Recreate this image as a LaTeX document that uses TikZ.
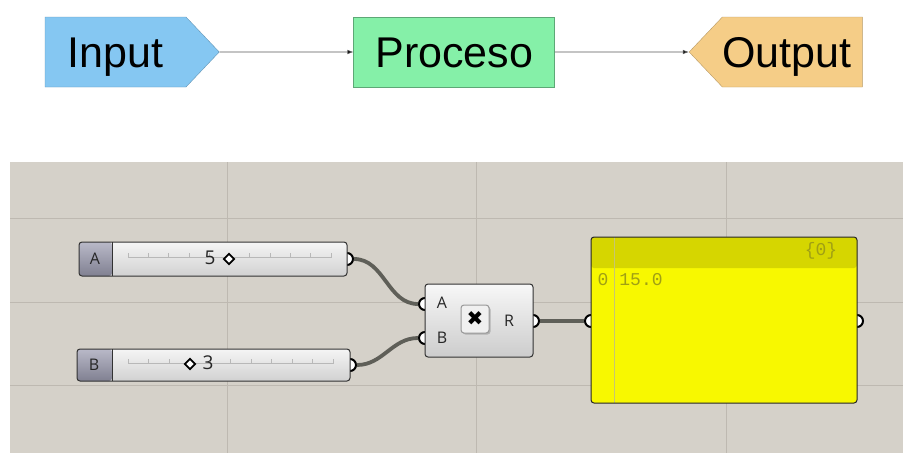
\documentclass[tikz,border=0pt]{standalone}
\usepackage{fontspec}
\setmainfont{Liberation Sans}
\newfontfamily\ghfont{Open Sans}
\newfontfamily\panelfont{Liberation Mono}
\newfontfamily\symfont{DejaVu Sans}
\usepackage{tikz}
\usetikzlibrary{arrows.meta,positioning,shapes.symbols,shapes.geometric}
\definecolor{inblue}{RGB}{133,199,242}
\definecolor{procgreen}{RGB}{133,240,168}
\definecolor{outorange}{RGB}{245,205,135}
\definecolor{canvasbg}{RGB}{213,209,201}
\definecolor{gridgray}{RGB}{190,185,177}
\definecolor{wiregray}{RGB}{95,95,88}
\definecolor{ghborder}{RGB}{50,50,50}
\definecolor{lbltop}{RGB}{185,185,200}
\definecolor{lblbot}{RGB}{128,128,145}
\definecolor{paneltop}{RGB}{214,214,0}
\definecolor{panelbody}{RGB}{248,248,0}
\definecolor{panelink}{RGB}{160,160,20}
\tikzset{
    %Define standard arrow tip
    >={Latex[length=6pt,width=4.5pt]},
    %Define style for the top boxes
    inbox/.style={
           signal, signal to=east, signal pointer angle=93,
           draw=inblue!75!black, thin,
           fill=inblue,
           text width=141pt, inner xsep=0pt, inner ysep=19.5pt,
           text height=31pt, text depth=0pt,
           font=\fontsize{43}{43}\selectfont,
           align=center},
    procbox/.style={
           rectangle,
           draw=procgreen!70!black, thin,
           fill=procgreen,
           minimum width=201pt,
           text height=31pt, text depth=0pt, inner ysep=19.5pt,
           font=\fontsize{43}{43}\selectfont,
           text centered},
    outbox/.style={
           signal, signal to=west, signal pointer angle=93,
           draw=outorange!75!black, thin,
           fill=outorange,
           text width=140pt, inner xsep=0pt, inner ysep=19.5pt,
           text height=31pt, text depth=0pt,
           font=\fontsize{43}{43}\selectfont,
           align=left},
    % Define arrow style
    flow/.style={
           ->,
           draw=black!65, line width=0.7pt},
    %Define style for the canvas
    canvas/.style={fill=canvasbg},
    gridline/.style={draw=gridgray, line width=1pt},
    grip/.style={
           circle,
           draw=black, fill=white,
           line width=2pt,
           minimum size=12pt,
           inner sep=0pt},
    wire/.style={
           draw=wiregray,
           line width=3.8pt},
    slider/.style={
           rectangle,
           rounded corners=3pt,
           draw=ghborder, line width=1pt,
           top color=white!96!black,
           bottom color=black!18,
           path picture={
              \shade[top color=lbltop, bottom color=lblbot]
                 (path picture bounding box.south west) rectangle
                 ([xshift=#1]path picture bounding box.north west);
              \draw[ghborder, line width=1pt]
                 ([xshift=#1]path picture bounding box.south west) --
                 ([xshift=#1]path picture bounding box.north west);
           }},
    tick/.style={draw=black!28, line width=0.7pt},
    knob/.style={
           diamond,
           draw=black, fill=white,
           line width=1.8pt,
           minimum size=11pt,
           inner sep=0pt},
    ghlabel/.style={
           inner sep=0pt,
           font=\ghfont\fontsize{16}{16}\selectfont,
           text=black!85},
    ghvalue/.style={
           inner sep=0pt,
           font=\ghfont\fontsize{19}{19}\selectfont,
           text=black!85},
    comp/.style={
           rectangle,
           rounded corners=3pt,
           draw=ghborder, line width=1pt,
           top color=white!97!black,
           bottom color=black!20},
    iconbox/.style={
           rectangle,
           rounded corners=3pt,
           draw=black!40, line width=1pt,
           fill=black!6,
           minimum width=28pt,
           minimum height=28pt,
           font=\symfont\fontsize{20}{20}\selectfont},
    iconshadow/.style={
           rectangle,
           rounded corners=3pt,
           fill=black!30,
           minimum width=28pt,
           minimum height=28pt},
    panel/.style={
           rectangle,
           rounded corners=3pt,
           draw=black!85, line width=1pt,
           fill=panelbody,
           path picture={
              \fill[paneltop]
                 (path picture bounding box.north west) rectangle
                 ([yshift=-31pt]path picture bounding box.north east);
              \draw[panelink!60, line width=0.8pt]
                 ([xshift=23pt]path picture bounding box.north west) --
                 ([xshift=23pt]path picture bounding box.south west);
           }},
    paneltext/.style={
           inner sep=0pt,
           font=\panelfont\fontsize{18}{18}\selectfont,
           text=panelink}
}
\begin{document}
\begin{tikzpicture}[x=1pt,y=-1pt,node distance=134pt]
\useasboundingbox (0,0) rectangle (903,453);
% top row
\node[inbox](input) at (115.5,52){Input};
\node[procbox, right=of input](proc){Proceso};
\node[outbox, right=of proc](output){Output};
\path[flow]
	(input) edge (proc)
	(proc) edge (output);
% canvas and grid
\fill[canvas] (10,162) rectangle (903,453);
\foreach \x in {227,476,726}
	\draw[gridline] (\x,162) -- (\x,453);
\foreach \y in {218,302,385}
	\draw[gridline] (10,\y) -- (903,\y);
% grips
\node[grip](gA) at (347,259){};
\node[grip](gB) at (350,365){};
\node[grip](gMA) at (425,304){};
\node[grip](gMB) at (425,338){};
\node[grip](gR) at (533,321){};
\node[grip](gPin) at (591,321){};
\node[grip](gPout) at (857,321){};
% wires
\draw[wire] (gA.east) to[out=0,in=180] (gMA.west);
\draw[wire] (gB.east) to[out=0,in=180] (gMB.west);
\draw[wire] (gR.east) -- (gPin.west);
% sliders
\node[slider=33pt, minimum width=268pt, minimum height=34pt](slA) at (213,259){};
\node[slider=35pt, minimum width=273pt, minimum height=32pt](slB) at (213.5,365){};
\draw[tick] (128,257.5) -- (331,257.5);
\foreach \i in {0,...,10}
	\draw[tick] (128+20.3*\i,257.5) -- ++(0,-4.5);
\draw[tick] (128,363.5) -- (333,363.5);
\foreach \i in {0,...,10}
	\draw[tick] (128+20.5*\i,363.5) -- ++(0,-4.5);
\node[ghlabel](lblA) at (95,259){A};
\node[ghlabel](lblB) at (94,365){B};
\node[ghvalue](valA) at (210,258){5};
\node[knob](knA) at (229,259){};
\node[knob](knB) at (190,364){};
\node[ghvalue](valB) at (208,363){3};
% multiplication
\node[comp, minimum width=108pt, minimum height=73pt](mult) at (479,320.5){};
\node[ghlabel](mA) at (442,303){A};
\node[ghlabel](mB) at (442,338){B};
\node[ghlabel](mR) at (509,321){R};
\node[iconshadow] at (476.5,320.5){};
\node[iconbox](icon) at (475,319){✖};
% panel
\node[panel, minimum width=266pt, minimum height=166pt](panel) at (724,320){};
\node[paneltext](pPath) at (821,251){\{0\}};
\node[paneltext](pIdx) at (603,280){0};
\node[paneltext](pVal) at (641,280){15.0};
\end{tikzpicture}
\end{document}
